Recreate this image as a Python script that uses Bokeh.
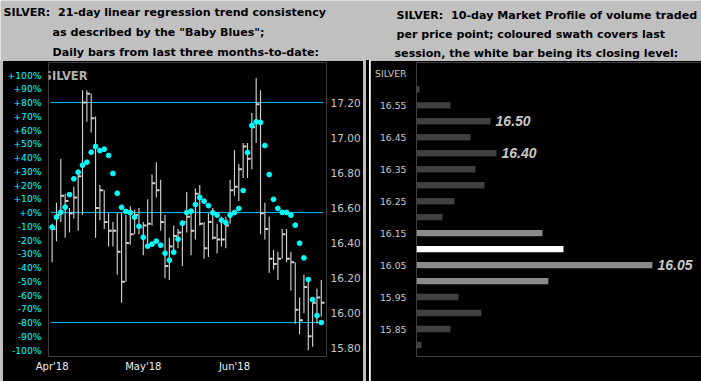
from bokeh.plotting import figure
from bokeh.layouts import column, row
from bokeh.models import FixedTicker, LinearAxis, Range1d, Label, Div, NumeralTickFormatter
from bokeh.core.properties import value
from bokeh.embed import file_html
from bokeh.resources import INLINE

# ---------------- data: left panel (daily bars + "Baby Blues") ----------------
month_labels = ["Apr'18", "May'18", "Jun'18"]
month_start_idx = [0, 21, 42]

highs = [16.51, 16.63, 16.88, 16.68, 16.60, 16.72, 16.79, 17.27, 17.27, 17.25,
         17.12, 16.73, 16.70, 16.57, 16.52, 16.57, 16.57, 16.56, 16.61, 16.59,
         16.60, 16.52, 16.65, 16.79, 16.86, 16.76, 16.56, 16.43, 16.50, 16.48,
         16.53, 16.69, 16.59, 16.71, 16.73, 16.52, 16.57, 16.60, 16.51, 16.55,
         16.55, 16.76, 16.93, 16.85, 16.97, 16.97, 17.14, 17.34, 17.27, 16.63,
         16.55, 16.36, 16.35, 16.48, 16.48, 16.35, 16.29, 16.09, 16.22, 16.20,
         16.06, 16.14, 16.19]
lows = [16.29, 16.41, 16.52, 16.43, 16.46, 16.54, 16.47, 16.56, 17.09, 17.03,
        16.43, 16.53, 16.48, 16.38, 16.38, 16.22, 16.06, 16.18, 16.39, 16.45,
        16.45, 16.33, 16.39, 16.50, 16.66, 16.47, 16.20, 16.19, 16.34, 16.37,
        16.27, 16.46, 16.33, 16.42, 16.50, 16.31, 16.32, 16.42, 16.34, 16.38,
        16.37, 16.51, 16.67, 16.64, 16.77, 16.77, 16.82, 16.97, 16.45, 16.42,
        16.23, 16.25, 16.19, 16.31, 16.29, 16.13, 15.94, 15.88, 16.00, 15.79,
        15.81, 15.94, 15.98]
closes = [16.48, 16.56, 16.67, 16.64, 16.57, 16.66, 16.78, 17.20, 17.25, 17.11,
          16.60, 16.70, 16.52, 16.47, 16.47, 16.35, 16.18, 16.40, 16.45, 16.56,
          16.49, 16.50, 16.51, 16.74, 16.70, 16.52, 16.27, 16.38, 16.44, 16.46,
          16.52, 16.55, 16.47, 16.68, 16.51, 16.37, 16.52, 16.43, 16.42, 16.42,
          16.50, 16.70, 16.72, 16.82, 16.95, 16.88, 17.06, 17.19, 16.57, 16.48,
          16.31, 16.28, 16.31, 16.45, 16.31, 16.29, 16.02, 15.96, 16.15, 15.87,
          16.06, 16.09, 16.06]
trend_pct = [-10.7, -3.4, 0.2, 3.9, 13.0, 24.5, 29.3, 34.4, 36.6, 43.9,
             48.0, 45.0, 46.0, 41.5, 28.4, 14.0, 3.8, 0.8, -0.1, -3.4,
             -10.0, -18.0, -24.5, -23.0, -20.8, -23.8, -29.6, -34.7, -28.9, -19.4,
             -7.8, 0.0, 1.0, 5.8, 11.0, 8.2, 5.0, -0.2, -1.9, -5.6,
             -7.3, -1.9, 0.0, 2.9, 16.0, 43.6, 63.3, 66.0, 65.5, 48.7,
             27.6, 9.6, 3.0, 0.1, 0.1, -2.0, -9.2, -22.3, -33.0, -48.7,
             -63.3, -74.9, -80.0]
trend_levels = [80, 0, -80]
pct_ticks = [-100, -90, -80, -70, -60, -50, -40, -30, -20, -10, 0,
             10, 20, 30, 40, 50, 60, 70, 80, 90, 100]
price_ticks = [15.80, 16.00, 16.20, 16.40, 16.60, 16.80, 17.00, 17.20]

# ---------------- data: right panel (10-day market profile) ----------------
profile_prices = [16.60, 16.55, 16.50, 16.45, 16.40, 16.35, 16.30, 16.25, 16.20,
                  16.15, 16.10, 16.05, 16.00, 15.95, 15.90, 15.85, 15.80]
profile_volume = [1.3, 14.4, 31.4, 22.9, 33.9, 25.0, 28.8, 16.1, 11.0,
                  53.4, 62.3, 100.0, 55.9, 17.8, 27.5, 14.4, 2.1]
profile_kind = ["prior", "prior", "prior", "prior", "prior", "prior", "prior", "prior", "prior",
                "session", "close", "session", "session", "prior", "prior", "prior", "prior"]
peak_prices = [16.50, 16.40, 16.05]
profile_ticks = [15.85, 15.95, 16.05, 16.15, 16.25, 16.35, 16.45, 16.55, 16.65]

header_left = ["SILVER:\u00a0 21-day linear regression trend consistency",
               "as described by the \"Baby Blues\";",
               "Daily bars from last three months-to-date:"]
header_right = ["SILVER:\u00a0 10-day Market Profile of volume traded",
                "per price point; coloured swath covers last",
                "session, the white bar being its closing level:"]

# ---------------- styles ----------------
GRAY = "#c0c0c0"
BAR = "#d0d0d0"
TXT = "#c8c8c8"
CYAN = "#00ffff"
LINE = "#00bfff"
kind_color = {"prior": "#414141", "session": "#8a8a8a", "close": "#ffffff"}

W, H = 701, 381
HDR_H = 60
PANEL_H = H - HDR_H
EDGE_W, LEFT_W, SEP_W = 2, 361, 7
RIGHT_W = W - EDGE_W - LEFT_W - SEP_W

# ---------------- header ----------------
hdr = figure(width=W, height=HDR_H, x_range=Range1d(0, W), y_range=Range1d(HDR_H, 0),
             output_backend="svg", toolbar_location=None, min_border=0,
             background_fill_color=GRAY, border_fill_color=GRAY, outline_line_color=None)
hdr.axis.visible = False
hdr.grid.visible = False
hdr.text(x=[3, 52, 52], y=[11.7, 32.1, 52.0], text=header_left,
         text_font=value("DejaVu Sans"), text_font_style="bold", text_font_size="11.1px",
         text_color="black", text_baseline="alphabetic", text_align="left")
hdr.text(x=[396, 396, 394], y=[14.8, 34.2, 53.0], text=header_right,
         text_font=value("DejaVu Sans"), text_font_style="bold", text_font_size="11.1px",
         text_color="black", text_baseline="alphabetic", text_align="left")

# ---------------- left panel ----------------
xs = list(range(len(closes)))
L = figure(width=LEFT_W, height=PANEL_H,
           x_range=Range1d(-0.84, 63.2), y_range=Range1d(-104.7, 109.1),
           output_backend="svg", toolbar_location=None,
           min_border_left=46, min_border_right=32, min_border_top=2, min_border_bottom=25,
           background_fill_color="black", border_fill_color="black", outline_line_color=None)
L.extra_y_ranges = {"price": Range1d(15.754, 17.428)}
L.grid.visible = False

for ax in (L.xaxis[0], L.yaxis[0]):
    ax.axis_line_color = None
    ax.major_tick_line_color = None
    ax.minor_tick_line_color = None
    ax.major_tick_out = 0
    ax.major_tick_in = 0

L.yaxis.ticker = FixedTicker(ticks=pct_ticks)
L.yaxis.major_label_overrides = {t: (("+%d%%" % t) if t >= 0 else ("%d%%" % t)) for t in pct_ticks}
L.yaxis.major_label_text_color = CYAN
L.yaxis.major_label_text_font = "DejaVu Sans"
L.yaxis.major_label_text_font_size = "9.2px"
L.yaxis.major_label_standoff = 7

L.xaxis.ticker = FixedTicker(ticks=month_start_idx)
L.xaxis.major_label_overrides = dict(zip(month_start_idx, month_labels))
L.xaxis.major_label_text_color = "#f0f0f0"
L.xaxis.major_label_text_font = "DejaVu Sans"
L.xaxis.major_label_text_font_size = "10px"
L.xaxis.major_label_standoff = 4

pax = LinearAxis(y_range_name="price", ticker=FixedTicker(ticks=price_ticks),
                 formatter=NumeralTickFormatter(format="0.00"))
pax.axis_line_color = None
pax.major_tick_line_color = None
pax.minor_tick_line_color = None
pax.major_tick_out = 0
pax.major_tick_in = 0
pax.major_label_text_color = TXT
pax.major_label_text_font = "DejaVu Sans"
pax.major_label_text_font_size = "10.5px"
pax.major_label_standoff = 4
L.add_layout(pax, "right")

L.segment(x0=[xs[0] - 0.3] * 3, x1=[xs[-1] + 0.4] * 3, y0=trend_levels, y1=trend_levels,
          line_color=LINE, line_width=1)
L.segment(x0=xs, y0=highs, x1=xs, y1=lows, y_range_name="price", line_color=BAR, line_width=1.15)
L.segment(x0=xs, y0=closes, x1=[x + 0.75 for x in xs], y1=closes, y_range_name="price",
          line_color=BAR, line_width=2)
L.scatter(x=xs, y=trend_pct, size=4.8, fill_color=CYAN, line_color=CYAN)

L.add_layout(Label(x=-1.97, y=99.3, text="SILVER", text_font="DejaVu Sans", text_font_style="bold",
                   text_font_size="11.5px", text_color="#b0b0b0", text_baseline="middle"))

# ---------------- separators ----------------
left_edge = Div(width=EDGE_W, height=PANEL_H, margin=0, styles={"background-color": GRAY})
sep = Div(width=SEP_W, height=PANEL_H, margin=0,
          styles={"background": "linear-gradient(to right, #c0c0c0 0px, #c0c0c0 3px, #000000 3px, #000000 6px, #ffffff 6px, #ffffff 7px)"})

# ---------------- right panel ----------------
R = figure(width=RIGHT_W, height=PANEL_H,
           x_range=Range1d(0, 120.8), y_range=Range1d(15.764, 16.684),
           output_backend="svg", toolbar_location=None,
           min_border_left=46, min_border_right=0, min_border_top=2, min_border_bottom=2,
           background_fill_color="black", border_fill_color="black", outline_line_color=None)
R.grid.visible = False
R.xaxis.visible = False
R.yaxis.ticker = FixedTicker(ticks=profile_ticks)
R.yaxis.formatter = NumeralTickFormatter(format="0.00")
R.yaxis.major_label_overrides = {16.65: "SILVER"}
R.yaxis.axis_line_color = None
R.yaxis.major_tick_line_color = None
R.yaxis.minor_tick_line_color = None
R.yaxis.major_tick_out = 0
R.yaxis.major_tick_in = 0
R.yaxis.major_label_standoff = 10
R.yaxis.major_label_text_color = TXT
R.yaxis.major_label_text_font = "DejaVu Sans"
R.yaxis.major_label_text_font_size = "9.3px"

R.hbar(y=profile_prices, left=0, right=profile_volume, height=0.02,
       fill_color=[kind_color[k] for k in profile_kind], line_color=None)
peak_vol = [profile_volume[profile_prices.index(p)] for p in peak_prices]
R.text(x=peak_vol, y=peak_prices, text=["%.2f" % p for p in peak_prices], x_offset=5,
       text_font=value("Liberation Sans"), text_font_style="bold italic", text_font_size="14px",
       text_color=TXT, text_baseline="middle", text_align="left")

layout = column(hdr, row(left_edge, L, sep, R, spacing=0), spacing=0)
open("out.html", "w").write(file_html(layout, INLINE))
